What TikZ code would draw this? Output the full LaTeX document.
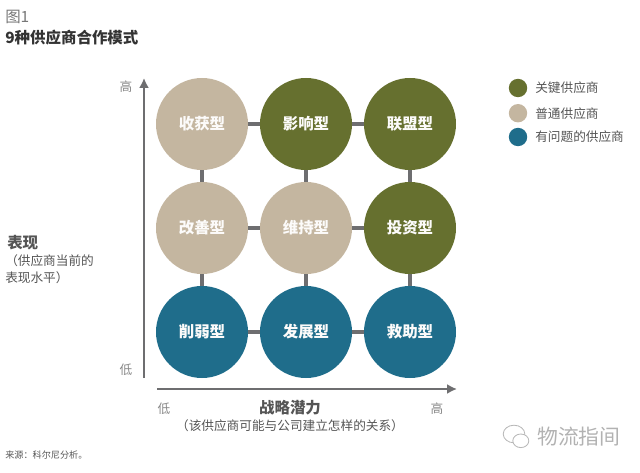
\documentclass[tikz,border=0pt]{standalone}
\usepackage{fontspec}
\setmainfont{Noto Sans CJK SC}
\usepackage{xcolor}
\definecolor{sptan}{RGB}{196,182,160}
\definecolor{spolive}{RGB}{102,112,47}
\definecolor{spteal}{RGB}{31,109,139}
\definecolor{splink}{RGB}{110,110,112}
\definecolor{sptext}{RGB}{85,85,85}
\usetikzlibrary{arrows.meta,positioning}

\begin{document}
\begin{tikzpicture}[every node/.style={inner sep=0pt, text=sptext, font=\fontsize{9}{12}\selectfont},
  bub/.style={circle, minimum size=2.3cm, text=white!95!sptan, font=\fontsize{11}{13}\selectfont\bfseries},
  leg/.style={circle, minimum size=0.46cm},
  legtxt/.style={anchor=west},
  big/.style={font=\fontsize{11}{13}\selectfont\bfseries},
  link/.style={draw=splink, line width=2.6pt},
  axis/.style={-{Latex[length=7pt,width=7pt]}, draw=splink, line width=1.3pt}]
\useasboundingbox (0,0) rectangle (16,11.8);
% Heading
\node[anchor=west, text=sptext!80] (fig) at (0.125,11.375) {\fontsize{11}{13}\selectfont 图1};
\node[anchor=west, big, text=black!80] (title) at (0.125,10.85) {9种供应商合作模式};
% Circles
\node[bub, fill=sptan] (harvest) at (5.05,8.7) {收获型};
\node[bub, fill=spolive] (influence) at (7.65,8.7) {影响型};
\node[bub, fill=spolive] (alliance) at (10.25,8.7) {联盟型};
\node[bub, fill=sptan] (improve) at (5.05,6.1) {改善型};
\node[bub, fill=sptan] (maintain) at (7.65,6.1) {维持型};
\node[bub, fill=spolive] (invest) at (10.25,6.1) {投资型};
\node[bub, fill=spteal] (reduce) at (5.05,3.5) {削弱型};
\node[bub, fill=spteal] (develop) at (7.65,3.5) {发展型};
\node[bub, fill=spteal] (rescue) at (10.25,3.5) {救助型};
% Links
\draw[link] (harvest) -- (influence);
\draw[link] (influence) -- (alliance);
\draw[link] (improve) -- (maintain);
\draw[link] (maintain) -- (invest);
\draw[link] (reduce) -- (develop);
\draw[link] (develop) -- (rescue);
\draw[link] (harvest) -- (improve);
\draw[link] (improve) -- (reduce);
\draw[link] (influence) -- (maintain);
\draw[link] (maintain) -- (develop);
\draw[link] (alliance) -- (invest);
\draw[link] (invest) -- (rescue);
% Axes
\coordinate (ylow) at (3.6,2.35);
\coordinate (yhigh) at (3.6,9.85);
\coordinate (xlow) at (3.925,2.075);
\coordinate (xhigh) at (11.425,2.075);
\draw[axis] (ylow) -- (yhigh);
\draw[axis] (xlow) -- (xhigh);
\node[text=sptext!70] (yhightxt) at (3.15,9.625) {高};
\node[text=sptext!70] (ylowtxt) at (3.15,2.55) {低};
\node[text=sptext!70] (xlowtxt) at (4.1,1.575) {低};
\node[text=sptext!70] (xhightxt) at (10.925,1.575) {高};
\node[big] (xname) at (7.25,1.6) {战略潜力};
\node (xnote) at (7.25,1.15) {（该供应商可能与公司建立怎样的关系）};
% Left label
\node[big, anchor=west] (yname) at (0.175,5.725) {表现};
\node[anchor=west, align=left] (ynote) at (0.125,5.07) {（供应商当前的\\表现水平）};
% Legend
\node[leg, fill=spolive] (keyleg) at (12.95,9.6) {};
\node[leg, fill=sptan] (normleg) at (12.95,8.97) {};
\node[leg, fill=spteal] (badleg) at (12.95,8.375) {};
\node[legtxt] at (13.375,9.6) {关键供应商};
\node[legtxt] at (13.375,8.97) {普通供应商};
\node[legtxt] at (13.375,8.375) {有问题的供应商};
% Source and mark
\node[anchor=west, font=\fontsize{6.5}{8}\selectfont] (source) at (0.125,0.425) {来源：科尔尼分析。};
\node[text=black!30, font=\fontsize{14.8}{16}\selectfont] (mark) at (14.47,0.875) {物流指间};
\draw[black!28, line width=0.6pt] (12.85,0.95) ellipse (0.27 and 0.22);
\draw[black!28, line width=0.6pt, fill=white] (13.02,0.78) ellipse (0.2 and 0.17);
\end{tikzpicture}
\end{document}
